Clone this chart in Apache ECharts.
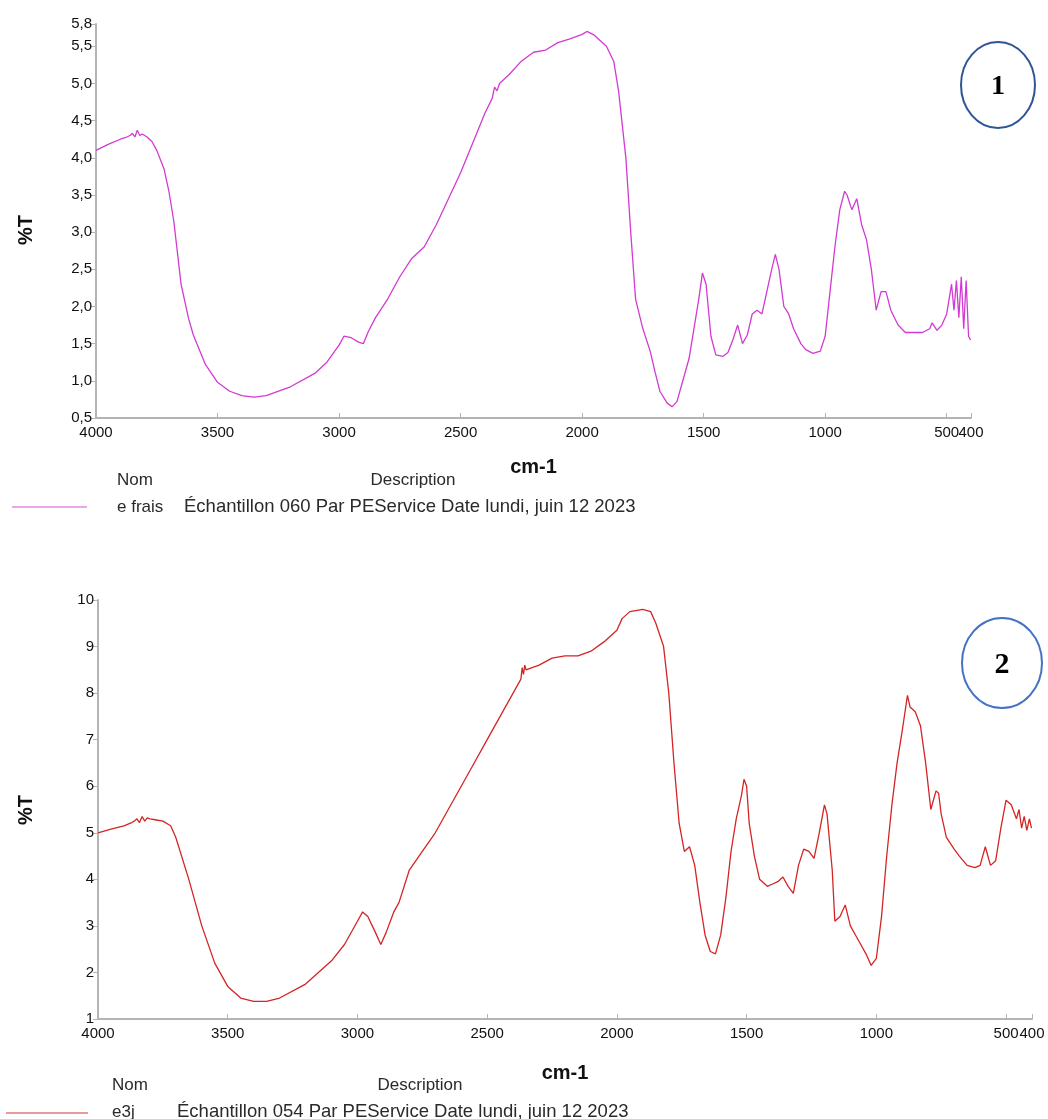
<!DOCTYPE html>
<html>
<head>
<meta charset="utf-8">
<script src="https://cdn.jsdelivr.net/npm/echarts@6/dist/echarts.min.js"></script>
<style>
html,body{margin:0;padding:0;background:#fff;}
#chart{width:1048px;height:1119px;}
</style>
</head>
<body>
<div id="chart"></div>
<script>
// ---- Data ----
var xTicks = [4000, 3500, 3000, 2500, 2000, 1500, 1000, 500, 400];
var xLabelsMain = [4000, 3500, 3000, 2500, 2000, 1500, 1000, 500];
var xLabelsEnd = [400];
var yTicks1 = [0.5, 1.0, 1.5, 2.0, 2.5, 3.0, 3.5, 4.0, 4.5, 5.0, 5.5, 5.8];
var yTicks2 = [1, 2, 3, 4, 5, 6, 7, 8, 9, 10];

var wn1 = [4000,3950,3900,3880,3860,3850,3840,3830,3820,3810,3790,3770,3750,3720,3700,3680,3650,3620,3600,3550,3500,3450,3400,3350,3300,3200,3100,3050,3000,2980,2950,2920,2900,2880,2850,2800,2750,2700,2650,2600,2550,2500,2450,2400,2370,2360,2350,2340,2300,2250,2200,2150,2100,2050,2000,1980,1950,1900,1870,1850,1820,1800,1780,1750,1720,1700,1680,1650,1630,1610,1590,1560,1540,1520,1505,1490,1470,1450,1420,1400,1380,1360,1340,1320,1300,1280,1260,1240,1220,1205,1190,1170,1150,1130,1100,1080,1050,1020,1000,980,960,940,920,910,890,870,850,830,810,790,770,750,730,700,670,640,600,570,560,540,520,500,490,480,470,460,450,440,430,420,410,402];
var t1 = [4.10,4.18,4.25,4.27,4.30,4.33,4.28,4.37,4.30,4.32,4.28,4.22,4.10,3.85,3.55,3.15,2.30,1.85,1.62,1.22,0.98,0.86,0.80,0.78,0.80,0.92,1.10,1.25,1.48,1.60,1.58,1.52,1.50,1.66,1.85,2.10,2.40,2.65,2.80,3.10,3.45,3.80,4.20,4.60,4.80,4.95,4.90,5.00,5.12,5.30,5.42,5.45,5.55,5.60,5.66,5.70,5.65,5.50,5.30,4.90,4.00,3.00,2.10,1.70,1.40,1.12,0.86,0.70,0.65,0.72,0.95,1.30,1.70,2.10,2.45,2.30,1.60,1.35,1.33,1.38,1.55,1.75,1.50,1.62,1.90,1.95,1.90,2.20,2.50,2.70,2.50,2.00,1.90,1.70,1.50,1.42,1.37,1.40,1.60,2.20,2.80,3.30,3.55,3.50,3.30,3.45,3.10,2.90,2.50,1.95,2.20,2.20,1.95,1.75,1.65,1.65,1.65,1.70,1.78,1.68,1.75,1.90,2.10,2.30,1.95,2.35,1.85,2.40,1.70,2.35,1.60,1.55];

var wn2 = [4000,3950,3900,3870,3860,3850,3840,3830,3820,3810,3800,3780,3750,3720,3700,3650,3600,3550,3500,3450,3400,3350,3300,3200,3100,3050,3000,2980,2960,2930,2910,2890,2860,2840,2800,2750,2700,2650,2600,2550,2500,2450,2400,2370,2365,2360,2355,2350,2300,2250,2200,2150,2100,2050,2000,1980,1950,1900,1870,1850,1820,1800,1780,1760,1740,1720,1700,1680,1660,1640,1620,1600,1580,1560,1540,1520,1510,1500,1490,1470,1450,1420,1400,1380,1360,1340,1320,1300,1280,1260,1240,1220,1200,1190,1170,1160,1140,1120,1100,1080,1060,1040,1020,1000,980,960,940,920,900,880,870,850,830,810,790,770,760,750,730,700,680,650,620,600,580,560,540,520,500,480,460,450,440,430,420,410,402];
var t2 = [5.00,5.08,5.15,5.22,5.25,5.30,5.22,5.35,5.25,5.32,5.30,5.28,5.25,5.15,4.90,4.00,3.00,2.20,1.70,1.45,1.38,1.38,1.45,1.75,2.25,2.60,3.10,3.30,3.20,2.85,2.60,2.85,3.30,3.50,4.20,4.60,5.00,5.50,6.00,6.50,7.00,7.50,8.00,8.30,8.55,8.40,8.60,8.50,8.60,8.75,8.80,8.80,8.90,9.10,9.35,9.60,9.75,9.80,9.75,9.50,9.00,8.00,6.50,5.20,4.60,4.70,4.30,3.50,2.80,2.45,2.40,2.80,3.60,4.60,5.30,5.80,6.15,6.00,5.20,4.50,4.00,3.85,3.90,3.95,4.05,3.85,3.70,4.30,4.65,4.60,4.45,5.00,5.60,5.40,4.20,3.10,3.20,3.45,3.00,2.80,2.60,2.40,2.15,2.30,3.20,4.50,5.60,6.50,7.20,7.95,7.70,7.60,7.30,6.50,5.50,5.90,5.85,5.40,4.90,4.65,4.50,4.30,4.25,4.30,4.70,4.30,4.40,5.10,5.70,5.60,5.30,5.50,5.10,5.35,5.05,5.30,5.10];

var legend1 = {name: 'e frais', desc: 'Échantillon 060 Par PEService Date lundi, juin 12 2023'};
var legend2 = {name: 'e3j', desc: 'Échantillon 054 Par PEService Date lundi, juin 12 2023'};

function pairs(xs, ys){ return xs.map(function(x,i){ return [x, ys[i]]; }); }

var labelFont = 'Liberation Sans, Arial, sans-serif';
var axisGray = '#b4b4b4';

function xAxisCfg(gridIndex, gap){
  return {
    type: 'value', gridIndex: gridIndex, min: 400, max: 4000, inverse: true,
    name: 'cm-1', nameLocation: 'middle', nameGap: gap,
    nameTextStyle: {fontFamily: labelFont, fontSize: 20, fontWeight: 'bold', color: '#111'},
    axisLine: {show: true, onZero: false, lineStyle: {color: axisGray, width: 2}},
    axisTick: {show: true, inside: true, length: 5, customValues: xTicks, lineStyle: {color: axisGray}},
    axisLabel: {customValues: xLabelsMain, margin: 7, fontFamily: labelFont, fontSize: 15, color: '#111',
                hideOverlap: false, showMinLabel: true, showMaxLabel: true,
                formatter: function(v){ return String(v); }},
    splitLine: {show: false}
  };
}
// companion axis on the same grid carrying only the end label (so it is never hidden by overlap)
function xAxisEndCfg(gridIndex){
  return {
    type: 'value', gridIndex: gridIndex, min: 400, max: 4000, inverse: true, position: 'bottom',
    axisLine: {show: false, onZero: false},
    axisTick: {show: false},
    axisLabel: {customValues: xLabelsEnd, margin: 7, fontFamily: labelFont, fontSize: 15, color: '#111',
                hideOverlap: false, showMinLabel: true, showMaxLabel: true,
                formatter: function(v){ return String(v); }},
    splitLine: {show: false}
  };
}
function yAxisCfg(gridIndex, min, max, ticks, fmt){
  return {
    type: 'value', gridIndex: gridIndex, min: min, max: max,
    axisLine: {show: true, onZero: false, lineStyle: {color: axisGray, width: 2}},
    axisTick: {show: true, inside: false, length: 5, customValues: ticks, lineStyle: {color: axisGray}},
    axisLabel: {customValues: ticks, margin: 4, fontFamily: labelFont, fontSize: 15, color: '#111',
                showMinLabel: true, showMaxLabel: true, hideOverlap: false, formatter: fmt},
    splitLine: {show: false}
  };
}

var chart = echarts.init(document.getElementById('chart'), null, {renderer: 'canvas'});

var textStyleLegend = {fontFamily: labelFont, fontSize: 17, fill: '#2a2a2a'};
var textStyleDesc = {fontFamily: labelFont, fontSize: 18.5, fill: '#2a2a2a'};

var option = {
  animation: false,
  backgroundColor: '#fff',
  grid: [
    {left: 96, top: 24, width: 875, height: 394, containLabel: false},
    {left: 98, top: 600, width: 934, height: 419, containLabel: false}
  ],
  xAxis: [xAxisCfg(0, 39), xAxisCfg(1, 44), xAxisEndCfg(0), xAxisEndCfg(1)],
  yAxis: [
    yAxisCfg(0, 0.5, 5.8, yTicks1, function(v){ return v.toFixed(1).replace('.', ','); }),
    yAxisCfg(1, 1, 10, yTicks2, function(v){ return String(v); })
  ],
  series: [
    {type: 'line', xAxisIndex: 0, yAxisIndex: 0, data: pairs(wn1, t1), showSymbol: false,
     lineStyle: {color: '#d23ad2', width: 1.3}, itemStyle: {color: '#d23ad2'}},
    {type: 'line', xAxisIndex: 1, yAxisIndex: 1, data: pairs(wn2, t2), showSymbol: false,
     lineStyle: {color: '#d42424', width: 1.3}, itemStyle: {color: '#d42424'}}
  ],
  graphic: [
    // y-axis titles
    {type: 'text', x: 26, y: 230, rotation: Math.PI/2,
     style: {text: '%T', fontFamily: labelFont, fontSize: 20, fontWeight: 'bold', fill: '#111', align: 'center', verticalAlign: 'middle'}},
    {type: 'text', x: 26, y: 810, rotation: Math.PI/2,
     style: {text: '%T', fontFamily: labelFont, fontSize: 20, fontWeight: 'bold', fill: '#111', align: 'center', verticalAlign: 'middle'}},
    // legend 1
    {type: 'text', x: 117, y: 480, style: Object.assign({text: 'Nom', verticalAlign: 'middle'}, textStyleLegend)},
    {type: 'text', x: 413, y: 480, style: Object.assign({text: 'Description', align: 'center', verticalAlign: 'middle'}, textStyleLegend)},
    {type: 'line', shape: {x1: 12, y1: 507, x2: 87, y2: 507}, style: {stroke: '#e28ae2', lineWidth: 1.5}},
    {type: 'text', x: 117, y: 507, style: Object.assign({text: legend1.name, verticalAlign: 'middle'}, textStyleLegend)},
    {type: 'text', x: 184, y: 507, style: Object.assign({text: legend1.desc, verticalAlign: 'middle'}, textStyleDesc)},
    // legend 2
    {type: 'text', x: 112, y: 1085, style: Object.assign({text: 'Nom', verticalAlign: 'middle'}, textStyleLegend)},
    {type: 'text', x: 420, y: 1085, style: Object.assign({text: 'Description', align: 'center', verticalAlign: 'middle'}, textStyleLegend)},
    {type: 'line', shape: {x1: 6, y1: 1113, x2: 88, y2: 1113}, style: {stroke: '#e27a7a', lineWidth: 1.5}},
    {type: 'text', x: 112, y: 1112, style: Object.assign({text: legend2.name, verticalAlign: 'middle'}, textStyleLegend)},
    {type: 'text', x: 177, y: 1112, style: Object.assign({text: legend2.desc, verticalAlign: 'middle'}, textStyleDesc)},
    // circled numbers
    {type: 'ellipse', shape: {cx: 998, cy: 85, rx: 37, ry: 43}, style: {fill: 'none', stroke: '#2f5597', lineWidth: 2}},
    {type: 'text', x: 998, y: 87, style: {text: '1', fontFamily: 'Liberation Serif, Times New Roman, serif', fontSize: 28, fontWeight: 'bold', fill: '#000', align: 'center', verticalAlign: 'middle'}},
    {type: 'ellipse', shape: {cx: 1002, cy: 663, rx: 40, ry: 45}, style: {fill: 'none', stroke: '#4472c4', lineWidth: 2}},
    {type: 'text', x: 1002, y: 665, style: {text: '2', fontFamily: 'Liberation Serif, Times New Roman, serif', fontSize: 30, fontWeight: 'bold', fill: '#000', align: 'center', verticalAlign: 'middle'}}
  ]
};
chart.setOption(option);
</script>
</body>
</html>
